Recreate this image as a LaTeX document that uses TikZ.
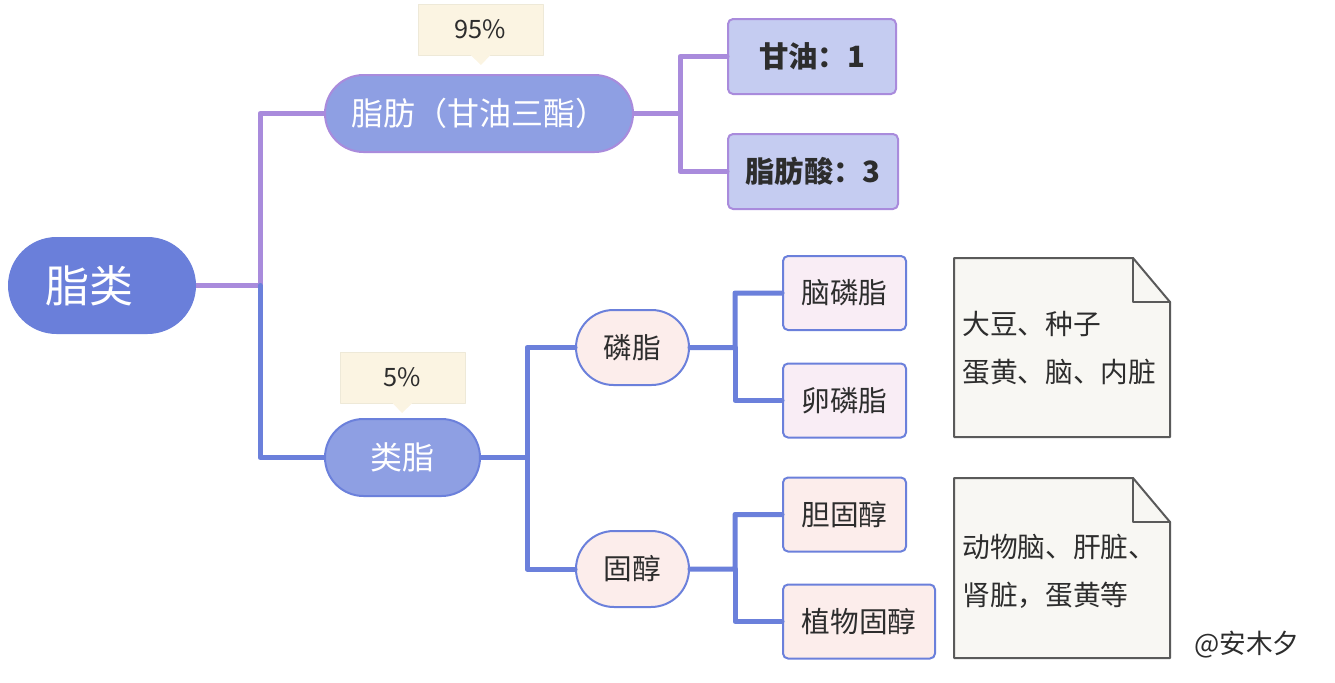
\documentclass[tikz,border=0pt]{standalone}
\usepackage{fontspec}
\newfontfamily\cjk{Noto Sans CJK SC}
\usetikzlibrary{shapes.misc}

\definecolor{rootblue}{RGB}{106,127,218}
\definecolor{lineblue}{RGB}{107,128,219}
\definecolor{linepurple}{RGB}{169,139,220}
\definecolor{pillfill}{RGB}{142,159,227}
\definecolor{boxfill}{RGB}{197,204,241}
\definecolor{pinkfill}{RGB}{252,237,235}
\definecolor{lilacfill}{RGB}{249,237,245}
\definecolor{tagfill}{RGB}{251,244,226}
\definecolor{tagline}{RGB}{238,233,216}
\definecolor{notefill}{RGB}{248,247,243}
\definecolor{noteline}{RGB}{90,90,90}
\definecolor{textdark}{RGB}{45,45,45}

\begin{document}
\begin{tikzpicture}[x=0.75pt, y=-0.75pt, line cap = round, line join = round]
\tikzstyle{every node}=[font=\cjk, inner sep=0pt]
\tikzstyle{topic}=[rounded rectangle, fill=rootblue, text=white, minimum width=141pt, minimum height=72.75pt]
\tikzstyle{branch1}=[rounded rectangle, fill=pillfill, draw=linepurple, line width=1.5pt, text=white, minimum height=57.75pt, font=\cjk\fontsize{24pt}{28pt}\selectfont]
\tikzstyle{branch2}=[branch1, draw=lineblue]
\tikzstyle{leaf1}=[rectangle, rounded corners=3.75pt, fill=boxfill, draw=linepurple, line width=1.5pt, text=textdark, minimum height=56.25pt, font=\cjk\bfseries\fontsize{22pt}{26pt}\selectfont]
\tikzstyle{sub2}=[rounded rectangle, fill=pinkfill, draw=lineblue, line width=1.5pt, text=textdark, minimum width=84.75pt, minimum height=56.25pt, font=\cjk\fontsize{21.5pt}{25pt}\selectfont]
\tikzstyle{leaf2}=[rectangle, rounded corners=3.75pt, fill=lilacfill, draw=lineblue, line width=1.5pt, text=textdark, minimum height=55.5pt, font=\cjk\fontsize{21.5pt}{25pt}\selectfont]
\tikzstyle{leaf3}=[leaf2, fill=pinkfill]
\tikzstyle{tag}=[rectangle, fill=tagfill, draw=tagline, line width=0.75pt, text=textdark, minimum width=93.75pt, minimum height=38.25pt, font=\cjk\fontsize{19pt}{23pt}\selectfont]
\tikzstyle{notebox}=[fill=notefill, draw=noteline, line width=1.5pt]
\tikzstyle{notetext}=[anchor=north west, align=left, text=textdark, font=\cjk\fontsize{20.8pt}{36pt}\selectfont]
\tikzstyle{purpleline}=[line width=3.75pt, color=linepurple]
\tikzstyle{blueline}=[line width=3.75pt, color=lineblue]

\useasboundingbox (0,0) rectangle (1335,682);

% branch points
\coordinate (j0) at (260,285.5);
\coordinate (j1) at (680,113.5);
\coordinate (j2) at (527,457.5);
\coordinate (j3) at (735,347.5);
\coordinate (j4) at (735,569);

\draw[purpleline] (102,285.5) -- (j0) |- (479,113.5) -- (j1);
\draw[blueline] (j0) |- (402.5,457.5) -- (j2);

\node[topic] (lipids) at (102,285.5) {};
\node[text=white, font=\cjk\fontsize{33pt}{36pt}\selectfont] (lipidstext) at (89,285.5) {脂类};
\node[branch1, minimum width=231pt] (fat) at (479,113.5) {脂肪（甘油三酯）};
\node[branch2, minimum width=116.25pt] (lipoid) at (402.5,457.5) {类脂};

\node[leaf1, minimum width=126pt] (glycerol) at (812,56.5) {甘油：1};
\node[leaf1, minimum width=127.5pt] (acid) at (813,171.5) {脂肪酸：3};
\node[sub2] (phos) at (632.5,347.5) {磷脂};
\node[sub2, minimum height=57pt] (sterol) at (632.5,569) {固醇};
\node[leaf2, minimum width=92.25pt] (cephalin) at (844.5,293) {脑磷脂};
\node[leaf2, minimum width=92.25pt] (lecithin) at (844.5,400.5) {卵磷脂};
\node[leaf3, minimum width=92.25pt] (chol) at (844.5,514.5) {胆固醇};
\node[leaf3, minimum width=114pt] (phyto) at (859,621.5) {植物固醇};

% connectors
\draw[purpleline] (j1) |- (glycerol);
\draw[purpleline] (j1) |- (acid);
\draw[blueline] (j2) |- (phos);
\draw[blueline] (j2) |- (sterol);
\draw[blueline] (phos) -- (j3) |- (cephalin);
\draw[blueline] (j3) |- (lecithin);
\draw[blueline] (sterol) -- (j4) |- (chol);
\draw[blueline] (j4) |- (phyto);

% percentage tags
\node[tag] (tag95) at (480.5,29.5) {95\%};
\node[tag] (tag5) at (402.5,377.5) {5\%};
\fill[tagfill] ([xshift=-7.5pt,yshift=0.4pt]tag95.south) -- (481,65) -- ([xshift=7.5pt,yshift=0.4pt]tag95.south) -- cycle;
\fill[tagfill] ([xshift=-7.5pt,yshift=0.4pt]tag5.south) -- (402,413) -- ([xshift=7.5pt,yshift=0.4pt]tag5.south) -- cycle;

% notes
\draw[notebox] (954,258) -- (1133,258) -- (1170,302) -- (1170,437) -- (954,437) -- cycle;
\draw[noteline, line width=1.5pt] (1133,258) -- (1133,302) -- (1170,302);
\node[notetext] (note1) at (962,311) {大豆、种子\\蛋黄、脑、内脏};
\draw[notebox] (954,478) -- (1133,478) -- (1170,522) -- (1170,658) -- (954,658) -- cycle;
\draw[noteline, line width=1.5pt] (1133,478) -- (1133,522) -- (1170,522);
\node[notetext] (note2) at (962,534) {动物脑、肝脏、\\肾脏，蛋黄等};

\node[text=textdark, font=\cjk\fontsize{20pt}{24pt}\selectfont] (sign) at (1247,645) {@安木夕};
\end{tikzpicture}
\end{document}
